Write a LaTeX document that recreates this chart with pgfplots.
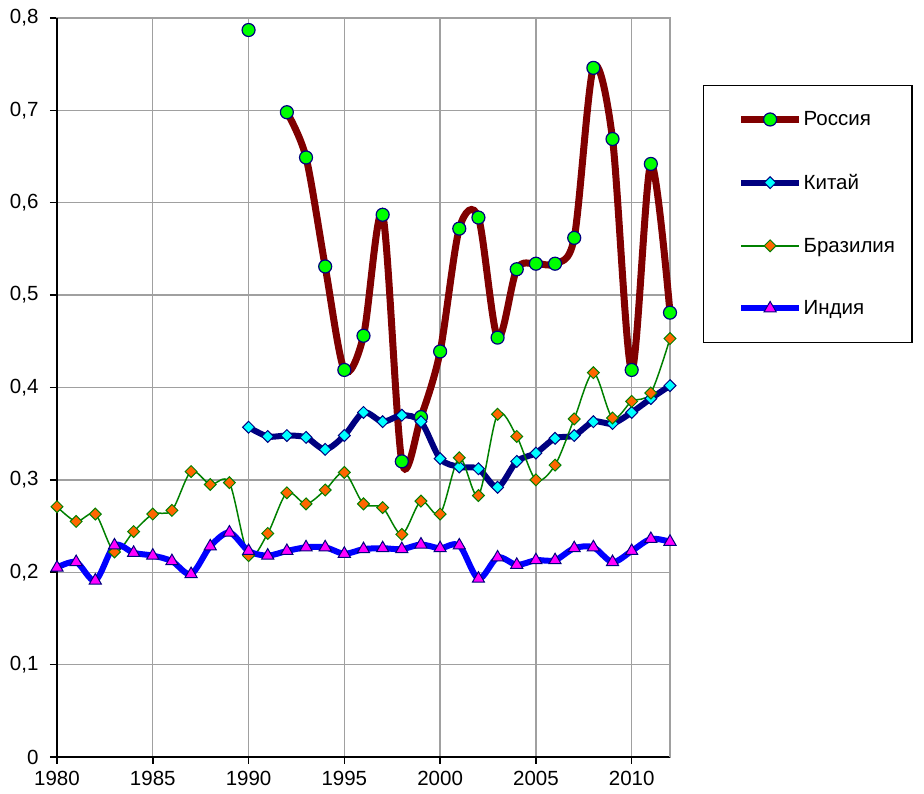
\documentclass[border=0pt]{standalone}
\usepackage{pgfplots}
\pgfplotsset{compat=1.18}
\usepackage{fontspec}
\setmainfont{Liberation Sans}
\definecolor{rusline}{HTML}{800000}
\definecolor{navyc}{HTML}{000080}
\definecolor{brgreen}{HTML}{008000}
\definecolor{indblue}{HTML}{0000FF}
\definecolor{mkgreen}{HTML}{00FF00}
\definecolor{mkcyan}{HTML}{00FFFF}
\definecolor{mkorange}{HTML}{FF6600}
\definecolor{mkmag}{HTML}{FF00FF}
\definecolor{gridgray}{HTML}{A0A0A0}
\begin{document}
\begin{tikzpicture}
\path[use as bounding box] (-57pt,-37pt) rectangle (867pt,757pt);
\begin{axis}[
  at={(0pt,0pt)}, anchor=south west,
  scale only axis, width=613pt, height=739pt,
  xmin=1980, xmax=2012, ymin=0, ymax=0.8,
  xtick={1980,1985,1990,1995,2000,2005,2010},
  xticklabels={1980,1985,1990,1995,2000,2005,2010},
  ytick={0,0.1,0.2,0.3,0.4,0.5,0.6,0.7,0.8},
  yticklabels={0,{0,1},{0,2},{0,3},{0,4},{0,5},{0,6},{0,7},{0,8}},
  grid=major,
  major grid style={color=gridgray, line width=1.3pt},
  axis line style={gridgray, line width=1.3pt},
  tick align=outside, major tick length=7pt,
  tick style={black, line width=1.5pt},
  xtick pos=left, ytick pos=left,
  tick label style={font=\fontsize{20.5}{24}\selectfont},
  yticklabel style={xshift=-8pt},
  xticklabel style={yshift=-4pt},
  /pgf/number format/assume math mode=true,
  clip=false,
  legend cell align=left,
  legend style={at={(1.0538,0.9093)}, anchor=north west, draw=black, line width=1.3pt, fill=white,
    font=\fontsize{20.5}{24}\selectfont, inner xsep=16pt, inner ysep=25pt, row sep=45pt,
    nodes={inner sep=1pt}},
  legend image code/.code={
    \path (-18pt,0pt) (0pt,0pt);
    \draw[mark repeat=2,mark phase=2] plot coordinates {(0pt,0pt) (29pt,0pt) (58pt,0pt)};
  },
]
\draw[black, line width=2pt] (rel axis cs:0,1) -- (rel axis cs:0,0) -- (rel axis cs:1,0);
\draw[gridgray, line width=1.3pt] (rel axis cs:1,0) -- (rel axis cs:1,1);
% Russia 1990 isolated point
\addplot[forget plot, only marks, mark=*, mark size=6.5pt,
  mark options={solid, fill=mkgreen, draw=navyc, line width=1.2pt}]
  coordinates {(1990,0.787)};
\addplot[rusline, line width=7pt, smooth, mark=*, mark size=6.5pt,
  mark options={solid, fill=mkgreen, draw=navyc, line width=1.2pt}]
  coordinates {
  (1992,0.698) (1993,0.649) (1994,0.531) (1995,0.419) (1996,0.456)
  (1997,0.587) (1998,0.320) (1999,0.368) (2000,0.439) (2001,0.572)
  (2002,0.584) (2003,0.454) (2004,0.528) (2005,0.534) (2006,0.534)
  (2007,0.562) (2008,0.746) (2009,0.669) (2010,0.419) (2011,0.642)
  (2012,0.481)};
\addlegendentry{Россия}
\addplot[navyc, line width=6pt, smooth, mark=square*, mark size=4.2pt,
  mark options={solid, rotate=45, fill=mkcyan, draw=navyc, line width=1pt}]
  coordinates {
  (1990,0.357) (1991,0.347) (1992,0.348) (1993,0.346) (1994,0.333)
  (1995,0.348) (1996,0.373) (1997,0.363) (1998,0.370) (1999,0.363)
  (2000,0.323) (2001,0.314) (2002,0.312) (2003,0.292) (2004,0.320)
  (2005,0.329) (2006,0.345) (2007,0.348) (2008,0.363) (2009,0.361)
  (2010,0.373) (2011,0.388) (2012,0.402)};
\addlegendentry{Китай}
\addplot[brgreen, line width=1.5pt, smooth, mark=square*, mark size=4.2pt,
  mark options={solid, rotate=45, fill=mkorange, draw=brgreen, line width=1pt}]
  coordinates {
  (1980,0.271) (1981,0.255) (1982,0.263) (1983,0.222) (1984,0.244)
  (1985,0.263) (1986,0.267) (1987,0.309) (1988,0.295) (1989,0.297)
  (1990,0.218) (1991,0.242) (1992,0.286) (1993,0.274) (1994,0.289)
  (1995,0.308) (1996,0.274) (1997,0.270) (1998,0.241) (1999,0.277)
  (2000,0.263) (2001,0.324) (2002,0.283) (2003,0.371) (2004,0.347)
  (2005,0.300) (2006,0.316) (2007,0.366) (2008,0.416) (2009,0.367)
  (2010,0.385) (2011,0.394) (2012,0.453)};
\addlegendentry{Бразилия}
\addplot[indblue, line width=6pt, smooth, mark=triangle*, mark size=7pt,
  mark options={solid, fill=mkmag, draw=navyc, line width=1pt}]
  coordinates {
  (1980,0.205) (1981,0.211) (1982,0.191) (1983,0.229) (1984,0.221)
  (1985,0.218) (1986,0.212) (1987,0.198) (1988,0.228) (1989,0.243)
  (1990,0.223) (1991,0.218) (1992,0.223) (1993,0.227) (1994,0.227)
  (1995,0.220) (1996,0.225) (1997,0.226) (1998,0.225) (1999,0.230)
  (2000,0.226) (2001,0.229) (2002,0.193) (2003,0.216) (2004,0.208)
  (2005,0.213) (2006,0.213) (2007,0.226) (2008,0.227) (2009,0.211)
  (2010,0.223) (2011,0.236) (2012,0.233)};
\addlegendentry{Индия}
\end{axis}
\end{tikzpicture}
\end{document}
